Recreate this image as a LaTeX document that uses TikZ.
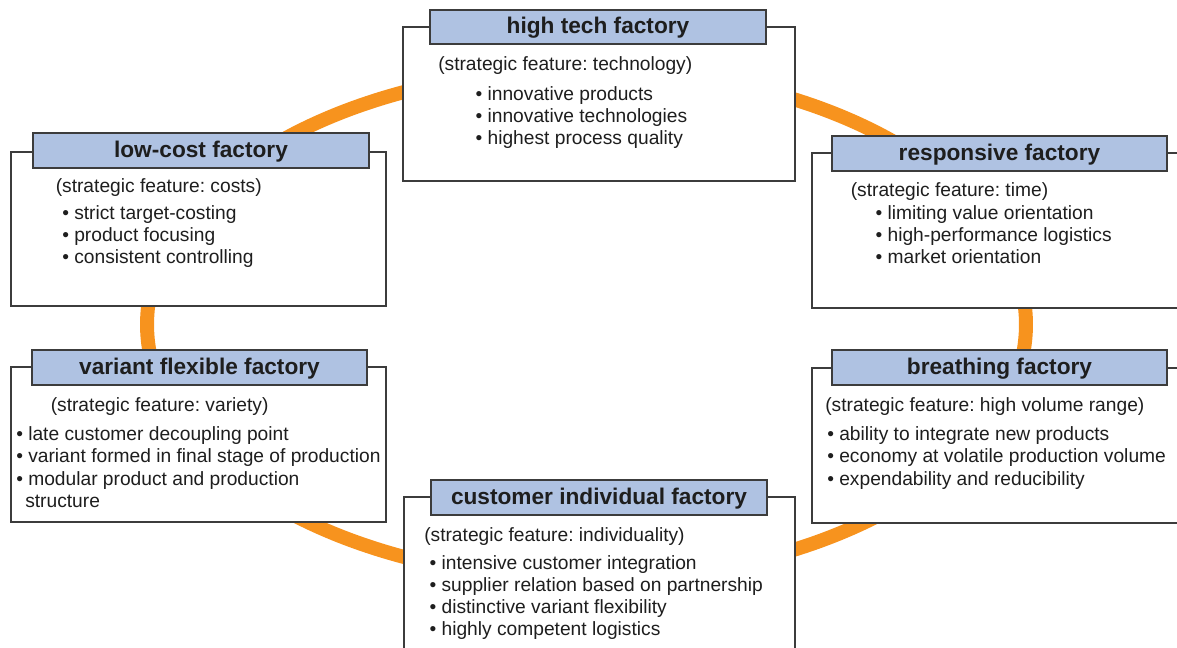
\documentclass[tikz,border=0pt]{standalone}
\usepackage{fontspec}
\setmainfont{Liberation Sans}
\frenchspacing
\definecolor{ringorange}{HTML}{F7931E}
\definecolor{titlefill}{HTML}{AFC2E2}
\definecolor{framegray}{HTML}{3C3C3C}
\definecolor{inkgray}{HTML}{1E1E1E}

\begin{document}
\begin{tikzpicture}[x=0.75pt,y=-0.75pt,
  frame/.style={draw=framegray, line width=1.1pt, fill=white},
  titlebox/.style={draw=framegray, line width=1.6pt, fill=titlefill,
    minimum width=251.5pt, minimum height=26pt, inner sep=0pt,
    text height=12.5pt, text depth=2.5pt,
    font=\fontsize{17}{20}\selectfont\bfseries, text=inkgray},
  txt/.style={anchor=base west, inner sep=0pt,
    font=\fontsize{14.4}{17}\selectfont, text=inkgray}]

\useasboundingbox (0,0) rectangle (1177,648);
\clip (0,0) rectangle (1177,648);

% the orange ring linking the six factory types
\draw[ringorange, line width=10.5pt] (586.5,324.5) ellipse [x radius=329.6pt, y radius=191.6pt];

% frames
\path[frame] (403,27) rectangle (795,181);
\path[frame] (11,152) rectangle (386,306);
\path[frame] (812,153) rectangle (1190,308);
\path[frame] (11,367) rectangle (386,522);
\path[frame] (812,368) rectangle (1190,523);
\path[frame] (404,497) rectangle (795,660);

% titles
\node[titlebox] (ht) at (598,27) {high tech factory};
\node[titlebox] (lc) at (201,150.5) {low-cost factory};
\node[titlebox] (rs) at (999.5,153.5) {responsive factory};
\node[titlebox] (vf) at (199.5,367.5) {variant flexible factory};
\node[titlebox] (br) at (999.5,367.5) {breathing factory};
\node[titlebox] (ci) at (599,497.5) {customer individual factory};

% high tech factory
\node[txt] (ht0) at (438,70.5) {(strategic feature: technology)};
\node[txt] (ht1) at (475.3,100.5) {\textbullet{} innovative products};
\node[txt] (ht2) at (475.3,122.5) {\textbullet{} innovative technologies};
\node[txt] (ht3) at (475.3,144.5) {\textbullet{} highest process quality};

% low-cost factory
\node[txt] (lc0) at (55.5,193) {(strategic feature: costs)};
\node[txt] (lc1) at (62,219.5) {\textbullet{} strict target-costing};
\node[txt] (lc2) at (62,241.5) {\textbullet{} product focusing};
\node[txt] (lc3) at (62,263.5) {\textbullet{} consistent controlling};

% responsive factory
\node[txt] (rs0) at (850.5,197) {(strategic feature: time)};
\node[txt] (rs1) at (875.3,219.5) {\textbullet{} limiting value orientation};
\node[txt] (rs2) at (875.3,241.5) {\textbullet{} high-performance logistics};
\node[txt] (rs3) at (875.3,263.5) {\textbullet{} market orientation};

% variant flexible factory
\node[txt] (vf0) at (50.5,411) {(strategic feature: variety)};
\node[txt] (vf1) at (16,440.5) {\textbullet{} late customer decoupling point};
\node[txt] (vf2) at (16,462.5) {\textbullet{} variant formed in final stage of production};
\node[txt] (vf3) at (16,485.5) {\textbullet{} modular product and production};
\node[txt] (vf4) at (25,507.5) {structure};

% breathing factory
\node[txt] (br0) at (825,411) {(strategic feature: high volume range)};
\node[txt] (br1) at (827,440.5) {\textbullet{} ability to integrate new products};
\node[txt] (br2) at (827,462.5) {\textbullet{} economy at volatile production volume};
\node[txt] (br3) at (827,485.5) {\textbullet{} expendability and reducibility};

% customer individual factory
\node[txt] (ci0) at (424,541) {(strategic feature: individuality)};
\node[txt] (ci1) at (429.3,569.5) {\textbullet{} intensive customer integration};
\node[txt] (ci2) at (429.3,591.5) {\textbullet{} supplier relation based on partnership};
\node[txt] (ci3) at (429.3,613.5) {\textbullet{} distinctive variant flexibility};
\node[txt] (ci4) at (429.3,635.5) {\textbullet{} highly competent logistics};
\end{tikzpicture}
\end{document}
